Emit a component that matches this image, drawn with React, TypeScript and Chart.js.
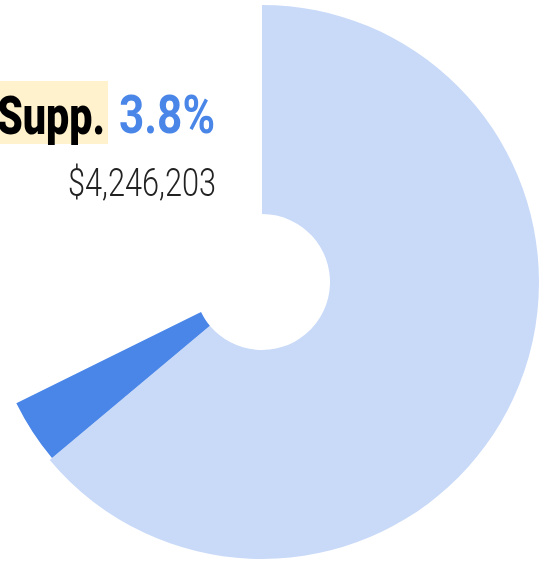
import React, { useEffect, useLayoutEffect, useRef } from "react";
import { Chart, registerables } from "chart.js";

Chart.register(...registerables);

// ---- data ----
const categories = ["All other", "Supp.", "(unshown)"];
const shares = [63.9, 3.8, 32.3];
const sliceColors = ["#C9DAF8", "#4A86E8", "rgba(255,255,255,0)"];
const highlightLabel = "Supp.";
const highlightPct = "3.8%";
const highlightAmount = "$4,246,203";

const highlightInset = 3; // highlighted slice drawn slightly smaller

type FitProps = {
  text: string;
  x0: number;
  x1: number;
  baseline: number;
  size: number;
  weight: number;
  color: string;
  family: string;
};

function FitText({ text, x0, x1, baseline, size, weight, color, family }: FitProps) {
  const boxRef = useRef<HTMLDivElement>(null);
  const textRef = useRef<HTMLSpanElement>(null);
  const markRef = useRef<HTMLSpanElement>(null);
  useLayoutEffect(() => {
    const box = boxRef.current;
    const t = textRef.current;
    const m = markRef.current;
    if (!box || !t || !m) return;
    box.style.transform = "none";
    const w = t.getBoundingClientRect().width;
    const sx = (x1 - x0) / w;
    box.style.transform = `scaleX(${sx})`;
    box.style.top = `${baseline - m.offsetTop}px`;
  }, [text, x0, x1, baseline, size, weight, family]);
  return (
    <div
      ref={boxRef}
      style={{
        position: "absolute",
        left: x0,
        top: 0,
        whiteSpace: "nowrap",
        transformOrigin: "0 0",
        fontFamily: family,
        fontSize: size,
        fontWeight: weight,
        color,
        lineHeight: 1,
      }}
    >
      <span ref={textRef}>{text}</span>
      <span ref={markRef} style={{ display: "inline-block", width: 0, height: 0 }} />
    </div>
  );
}

export default function App() {
  const canvasRef = useRef<HTMLCanvasElement>(null);

  useEffect(() => {
    const canvas = canvasRef.current;
    if (!canvas) return;
    const insetPlugin = {
      id: "highlightInset",
      afterDatasetsUpdate(chart: any) {
        const arc = chart.getDatasetMeta(0).data[1];
        if (arc) arc.outerRadius = arc.outerRadius - highlightInset;
      },
    };
    const chart = new Chart(canvas, {
      type: "doughnut",
      data: {
        labels: categories,
        datasets: [
          {
            data: shares,
            backgroundColor: sliceColors,
            hoverBackgroundColor: sliceColors,
            borderWidth: 0,
          },
        ],
      },
      options: {
        responsive: false,
        maintainAspectRatio: false,
        animation: false,
        cutout: 68,
        rotation: 0,
        layout: { padding: { top: 5, bottom: 2, left: 0, right: 0 } },
        plugins: {
          legend: { display: false },
          tooltip: { enabled: false },
        },
        events: [],
      },
      plugins: [insetPlugin],
    });
    return () => chart.destroy();
  }, []);

  const condensed = "Roboto, 'Liberation Sans', Arial, sans-serif";

  return (
    <div
      style={{
        position: "absolute",
        left: 0,
        top: 0,
        width: 548,
        height: 561,
        overflow: "hidden",
        background: "#ffffff",
      }}
    >
      <canvas
        ref={canvasRef}
        width={600}
        height={561}
        style={{ position: "absolute", left: -38, top: 0, width: 600, height: 561 }}
      />
      <div
        style={{
          position: "absolute",
          left: 0,
          top: 81,
          width: 108,
          height: 63,
          background: "#FFF2CC",
        }}
      />
      <FitText
        text={highlightLabel}
        x0={-3}
        x1={105}
        baseline={134}
        size={54}
        weight={900}
        color="#000000"
        family={condensed}
      />
      <FitText
        text={highlightPct}
        x0={119}
        x1={215}
        baseline={133}
        size={53}
        weight={700}
        color="#4A86E8"
        family={condensed}
      />
      <FitText
        text={highlightAmount}
        x0={68}
        x1={216}
        baseline={196}
        size={38}
        weight={300}
        color="#222222"
        family={condensed}
      />
    </div>
  );
}
